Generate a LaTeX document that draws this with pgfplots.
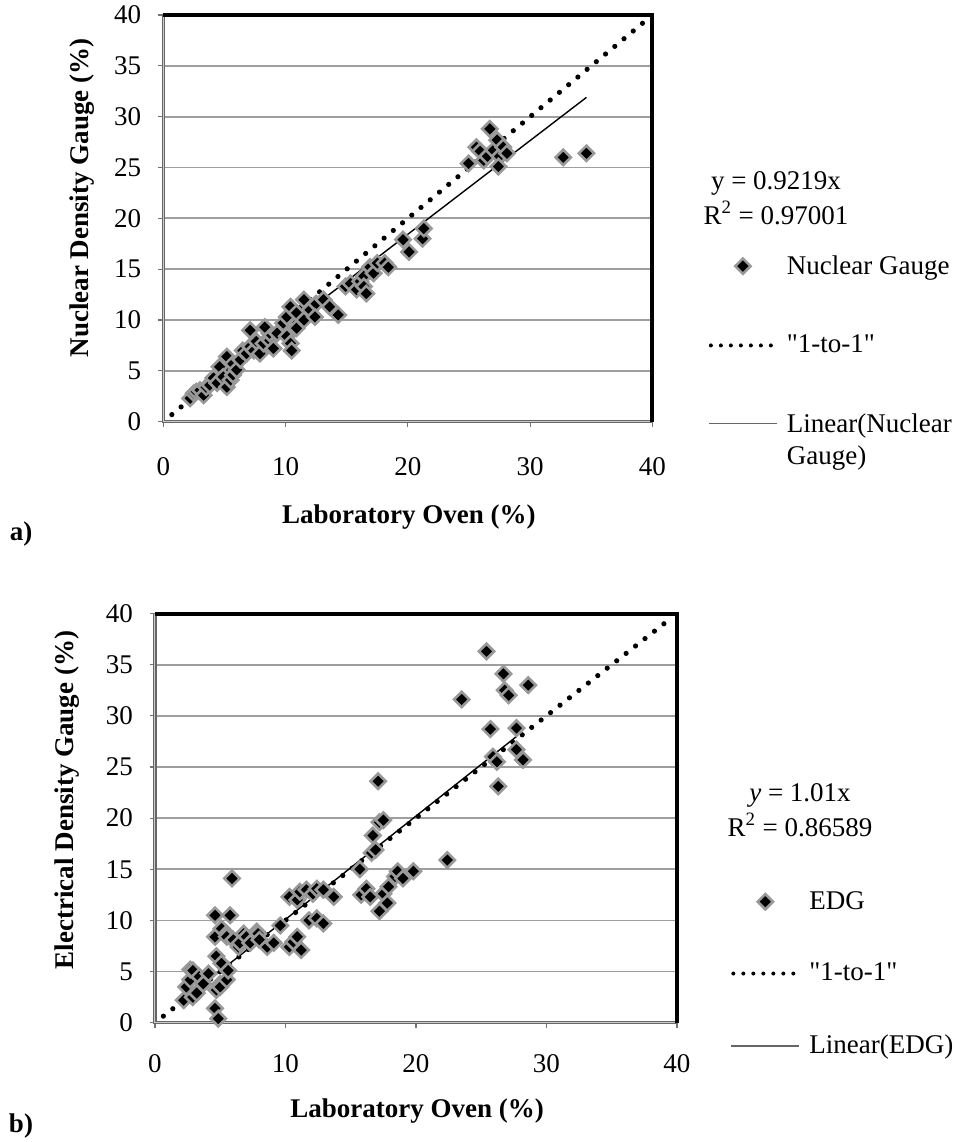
\documentclass[border=0pt]{standalone}
\usepackage{fontspec}
\setmainfont{Liberation Serif}[Ligatures=TeXOff]
\usepackage{pgfplots}
\pgfplotsset{compat=1.18}

\newcommand{\chartfont}{\fontsize{13.5}{16}\selectfont}
\newcommand{\oneToOne}{"1-to-1"}

% Nuclear density gauge vs. laboratory oven moisture (%)
\pgfplotstableread{
x y
2.2 2.3
2.5 2.8
2.7 2.95
3.0 3.1
3.3 2.6
3.5 3.4
3.8 3.6
4.1 4.3
4.4 3.8
4.6 5.4
4.9 4.4
5.2 3.4
5.5 4.1
5.7 4.6
5.2 6.4
5.7 5.7
6.0 5.1
6.3 6.1
6.5 7.0
6.8 6.7
7.1 7.4
7.4 7.0
7.6 7.9
7.9 6.7
8.2 7.7
8.7 8.0
8.7 8.7
9.0 7.2
9.3 8.7
9.8 9.7
7.1 9.0
8.3 9.3
10.1 10.3
10.4 11.3
10.9 10.7
11.5 12.0
12.0 11.0
12.5 11.6
10.9 9.2
11.5 10.0
12.4 10.3
13.1 12.0
10.1 8.4
10.4 7.7
10.5 7.0
13.6 11.3
14.3 10.5
14.9 13.3
15.3 13.6
15.8 13.0
16.1 13.8
16.4 14.3
16.4 13.3
16.6 12.6
16.9 15.2
17.2 14.6
17.5 15.6
18.1 15.6
18.4 15.2
19.6 17.9
20.1 16.7
21.2 18.0
21.3 19.0
24.96 25.4
25.6 27.0
25.9 26.6
26.2 25.7
26.5 26.1
26.7 28.8
27.0 26.7
27.3 27.7
27.5 26.1
27.8 27.0
28.1 26.4
27.4 25.1
32.7 26.0
34.6 26.4
}\nucleartable

% Electrical density gauge vs. laboratory oven moisture (%)
\pgfplotstableread{
x y
2.2 2.2
2.4 3.5
2.7 4.2
2.7 5.2
2.9 2.5
2.9 5.1
3.2 2.9
3.4 4.5
3.7 3.8
4.1 4.8
4.7 3.2
5.0 3.8
5.0 3.5
5.5 4.2
4.6 1.4
4.85 0.4
4.7 6.5
5.1 5.8
5.6 5.1
4.6 8.4
4.6 10.5
5.75 10.5
5.9 14.1
5.1 9.2
5.5 8.7
5.5 8.4
6.0 8.1
6.4 7.4
6.5 7.8
6.8 8.7
7.0 8.4
7.3 7.8
7.8 8.9
7.9 8.7
8.0 8.1
8.6 7.4
9.1 7.8
9.6 9.5
10.3 7.4
10.6 7.9
10.9 8.4
11.2 7.1
10.3 12.3
10.9 12.0
11.1 12.8
11.6 13.0
12.1 12.6
12.4 13.1
12.9 13.0
11.8 10.0
12.4 10.2
12.9 9.7
13.7 12.3
15.7 15.0
15.8 12.5
16.2 13.1
16.5 12.3
16.6 16.6
16.9 16.9
16.7 18.3
17.2 19.6
17.5 19.8
17.1 23.6
17.2 10.9
17.5 12.6
17.8 11.7
17.9 13.3
18.4 14.3
18.6 14.8
19.0 14.1
19.8 14.8
22.4 15.9
23.5 31.6
25.4 36.3
25.7 28.7
25.9 26.0
26.2 25.5
26.3 23.1
26.7 34.1
26.8 32.5
27.1 32.0
27.7 28.8
27.7 26.7
28.2 25.7
28.6 33.0
}\edgtable

\pgfplotsset{
  gaugeaxis/.style={
    scale only axis,
    xmin=0, xmax=40, ymin=0, ymax=40,
    xtick={0,10,20,30,40},
    ytick={0,5,...,40},
    tick align=outside,
    xtick pos=left, ytick pos=left,
    major tick length=2.5pt,
    tick style={black!55, line width=0.6pt},
    ymajorgrids,
    major grid style={black!38, line width=0.9pt},
    axis line style={draw=none},
    /pgf/number format/assume math mode=true,
    ticklabel style={font=\chartfont},
    xticklabel style={anchor=center},
    yticklabel style={anchor=east, xshift=-5pt},
    label style={font=\chartfont\bfseries},
    ylabel style={anchor=center, rotate=0},
    xlabel style={anchor=center},
    clip=false,
    legend style={draw=none, fill=none, font=\chartfont, inner sep=0pt,
      column sep=2pt, anchor=north west, cells={anchor=west, align=left}},
  },
  gaugepts/.style={only marks, mark=square*, mark size=2.7pt,
    mark options={rotate=45, fill=black, draw=black!40, line width=1.3pt},
    legend image code/.code={\draw[mark repeat=2,mark phase=2,##1]
      plot coordinates {(0pt,0pt) (17pt,0pt) (34pt,0pt)};}},
  oneline/.style={black, line width=2.6pt, line cap=round,
    dash pattern=on 0pt off 6pt,
    legend image code/.code={\draw[##1, line width=2pt, dash pattern=on 0pt off 5pt]
      (1pt,0pt) -- (34pt,0pt);}},
  fitline/.style={black, line width=0.7pt,
    legend image code/.code={\draw[##1, black!60] (0pt,0pt) -- (34pt,0pt);}},
  % trend-line key whose sample sits on the first line of a two-line entry
  fitlinetwo/.style={black, line width=0.7pt,
    legend image code/.code={\path (0pt,-8.5pt); \draw[##1, black!60] (0pt,8.5pt) -- (34pt,8.5pt);}},
}

\begin{document}
\begin{tikzpicture}

% (a) nuclear gauge
\begin{axis}[gaugeaxis,
  at={(81.65pt,360.15pt)}, anchor=south west,
  width=244.6pt, height=203.35pt,
  xticklabel style={yshift=-20pt},
  xlabel={Laboratory Oven (\%)},
  ylabel={Nuclear Density Gauge (\%)},
  xlabel style={at={(axis description cs:0.502,-0.234)}},
  ylabel style={at={(axis description cs:-0.166,0.55)}},
  legend style={at={(axis description cs:1.113,0.42)}, row sep=25pt},
]
\addplot[gaugepts] table[x=x, y=y] {\nucleartable};
\addlegendentry{Nuclear Gauge}
\addplot[oneline] coordinates {(0.7,0.7) (39.4,39.4)};
\addlegendentry{\oneToOne}
\addplot[fitlinetwo] coordinates {(2.2,2.028) (34.6,31.898)};
\addlegendentry{Linear(Nuclear\\Gauge)}
\draw[draw=black!60, double=black!20, double distance=0.5pt, line width=0.6pt]
  (rel axis cs:1,0) -- (rel axis cs:0,0) -- (rel axis cs:0,1);
\draw[black, line width=2pt] (rel axis cs:0,1) -- (rel axis cs:1,1) -- (rel axis cs:1,0);
\end{axis}

% (b) electrical density gauge
\begin{axis}[gaugeaxis,
  at={(77.5pt,59.65pt)}, anchor=south west,
  width=261pt, height=204.6pt,
  xticklabel style={yshift=-18pt},
  xlabel={Laboratory Oven (\%)},
  ylabel={Electrical Density Gauge (\%)},
  xlabel style={at={(axis description cs:0.502,-0.215)}},
  ylabel style={at={(axis description cs:-0.169,0.544)}},
  legend style={at={(axis description cs:1.102,0.332)}, row sep=21.5pt},
]
\addplot[gaugepts] table[x=x, y=y] {\edgtable};
\addlegendentry{EDG}
\addplot[oneline] coordinates {(0.64,0.64) (39.4,39.4)};
\addlegendentry{\oneToOne}
\addplot[fitline] coordinates {(2.7,2.727) (27.7,27.977)};
\addlegendentry{Linear(EDG)}
\draw[draw=black!60, double=black!20, double distance=0.5pt, line width=0.6pt]
  (rel axis cs:1,0) -- (rel axis cs:0,0) -- (rel axis cs:0,1);
\draw[black, line width=2pt] (rel axis cs:0,1) -- (rel axis cs:1,1) -- (rel axis cs:1,0);
\end{axis}

% trendline equations
\node[font=\chartfont] at (388pt,479.5pt) {y = 0.9219x};
\node[font=\chartfont] at (388pt,464.5pt) {R\textsuperscript{2} = 0.97001};
\node[font=\chartfont] at (400pt,173.5pt) {\textit{y} = 1.01x};
\node[font=\chartfont] at (400pt,158.5pt) {R\textsuperscript{2} = 0.86589};

% panel tags
\node[font=\chartfont\bfseries] at (10.5pt,304pt) {a)};
\node[font=\chartfont\bfseries] at (10.5pt,8pt) {b)};

\pgfresetboundingbox
\path (0pt,0pt) rectangle (481.5pt,571pt);
\end{tikzpicture}
\end{document}
